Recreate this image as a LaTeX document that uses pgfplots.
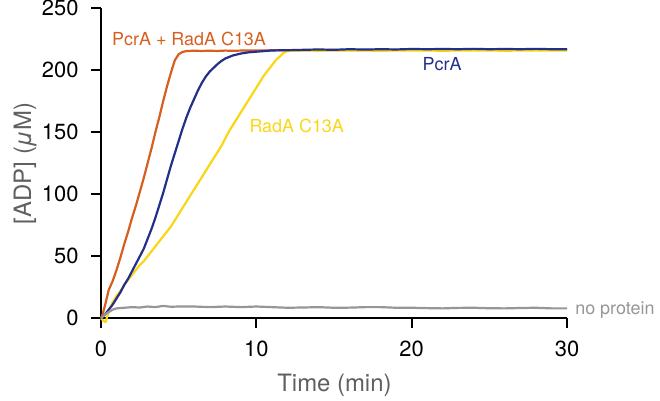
\documentclass[border=0pt]{standalone}
\usepackage{pgfplots}
\pgfplotsset{compat=1.18}
\usepackage{fontspec}
\setmainfont{TeX Gyre Heros}
\definecolor{cOrange}{RGB}{214,95,32}
\definecolor{cBlue}{RGB}{34,48,140}
\definecolor{cYellow}{RGB}{250,214,22}
\definecolor{cGray}{RGB}{150,150,150}
\definecolor{labGray}{RGB}{95,95,95}
\begin{document}
\begin{tikzpicture}
\begin{axis}[
  scale only axis,
  width=466bp, height=310bp,
  xmin=0, xmax=30, ymin=0, ymax=250,
  axis x line*=bottom, axis y line*=left,
  axis line style={line width=2bp, black},
  xtick={0,10,20,30}, ytick={0,50,100,150,200,250},
  tick align=outside, major tick length=10bp,
  every tick/.style={line width=2bp, black},
  minor tick num=0,
  /pgf/number format/assume math mode=true,
  tick label style={font=\fontsize{22}{26}\selectfont, black},
  xticklabel style={yshift=-9bp},
  yticklabel style={xshift=-9bp},
  xlabel={Time (min)}, ylabel={[ADP] (\textit{μ}M)},
  label style={font=\fontsize{24}{28}\selectfont, text=labGray},
  xlabel style={at={(axis description cs:0.501,-0.215)}, anchor=center},
  ylabel style={at={(axis description cs:-0.163,0.5)}, anchor=center, rotate=0},
  clip=false,
  every axis plot/.append style={line width=2.2bp, line join=round},
]
% PcrA + RadA C13A
\addplot[cOrange] coordinates {
(0,0) (0.1,3) (0.25,10) (0.5,23) (0.75,30) (1.0,39) (1.25,49) (1.5,60) (1.75,70)
(2.0,81) (2.25,91) (2.5,102) (2.75,113) (3.0,125) (3.25,137) (3.5,150) (3.75,162)
(4.0,175) (4.25,187) (4.5,198) (4.75,208) (5.0,213) (5.25,214.8) (5.5,215.5)
(6,215.8) (6.5,215.6) (7,215.8) (7.5,215.6) (8,215.9) (8.5,215.7) (9,215.9) (10,216)
(12,216.2) (15,216.3) (20,216.5) (25,216.5) (30,216.5)
};
% RadA C13A
\addplot[cYellow] coordinates {
(0,0) (0.15,-2) (0.3,-3) (0.5,6) (0.75,13) (1.0,18) (1.25,22) (1.5,27) (1.75,31)
(2.0,35) (2.25,39) (2.5,43) (2.75,46) (3.0,50) (3.25,54) (3.5,58) (3.75,62)
(4.0,66) (4.25,70) (4.5,74) (4.75,79) (5.0,84) (5.25,89) (5.5,94) (5.75,99)
(6.0,104) (6.25,109) (6.5,114) (6.75,119) (7.0,124) (7.25,129) (7.5,134) (7.75,139)
(8.0,145) (8.25,151) (8.5,156) (8.75,161) (9.0,166) (9.25,171) (9.5,176) (9.75,181)
(10.0,186) (10.25,191) (10.5,196) (10.75,200) (11.0,204) (11.25,208) (11.5,211)
(11.75,214) (12.0,215.5) (12.5,216) (14,215.8) (16,216) (18,215.8) (20,216)
(22,215.8) (24,216) (26,215.8) (28,216) (30,216)
};
% PcrA
\addplot[cBlue] coordinates {
(0,0) (0.25,3) (0.5,7) (0.75,11) (1.0,16) (1.25,21) (1.5,27) (1.75,32) (2.0,38)
(2.25,44) (2.5,50) (2.75,56) (3.0,64) (3.25,72) (3.5,81) (3.75,91) (4.0,101)
(4.25,112) (4.5,123) (4.75,133) (5.0,143) (5.25,153) (5.5,162) (5.75,170)
(6.0,177) (6.25,184) (6.5,190) (6.75,195) (7.0,199) (7.25,202) (7.5,205)
(7.75,207.5) (8.0,209.5) (8.5,212) (9.0,213.5) (9.5,214.5) (10,215) (10.5,215.5)
(11,216) (12,216.2) (13,216.5) (14,216.8) (15,216.5) (16,217) (17,216.7) (18,217)
(19,216.8) (20,217.2) (21,217) (22,217.2) (23,217) (24,217.3) (25,217) (26,217.2)
(27,217) (28,217.3) (29,217) (30,217)
};
% no protein
\addplot[cGray] coordinates {
(0,0) (0.25,3) (0.5,5) (0.75,7) (1.0,8) (1.5,8.5) (2,9) (2.5,8.7) (3,9.5) (3.5,9)
(4,10) (4.5,9.3) (5,9.5) (6,9.5) (7,9) (8,9.5) (9,9) (10,9.5) (11,9) (12,8.5)
(13,8.7) (14,9) (15,8.5) (16,8.6) (17,9) (18,9) (19,8.5) (20,8.5) (21,8.2)
(22,8) (23,8.4) (24,8.5) (25,8.1) (26,8) (27,8.3) (28,8.5) (29,8) (30,8)
};
\node[anchor=base, text=cOrange, font=\fontsize{18}{21}\selectfont] at (axis cs:5.67,220.4) {PcrA + RadA C13A};
\node[anchor=base, text=cBlue, font=\fontsize{18}{21}\selectfont] at (axis cs:21.96,199.7) {PcrA};
\node[anchor=base, text=cYellow, font=\fontsize{18}{21}\selectfont] at (axis cs:12.6,150.2) {RadA C13A};
\node[anchor=base west, inner sep=0pt, text=cGray, font=\fontsize{18}{21}\selectfont] at (axis cs:30.52,2.7) {no protein};
\end{axis}
\pgfresetboundingbox
\path[use as bounding box] (-101bp,-82.7bp) rectangle (559bp,318.3bp);
\end{tikzpicture}
\end{document}
